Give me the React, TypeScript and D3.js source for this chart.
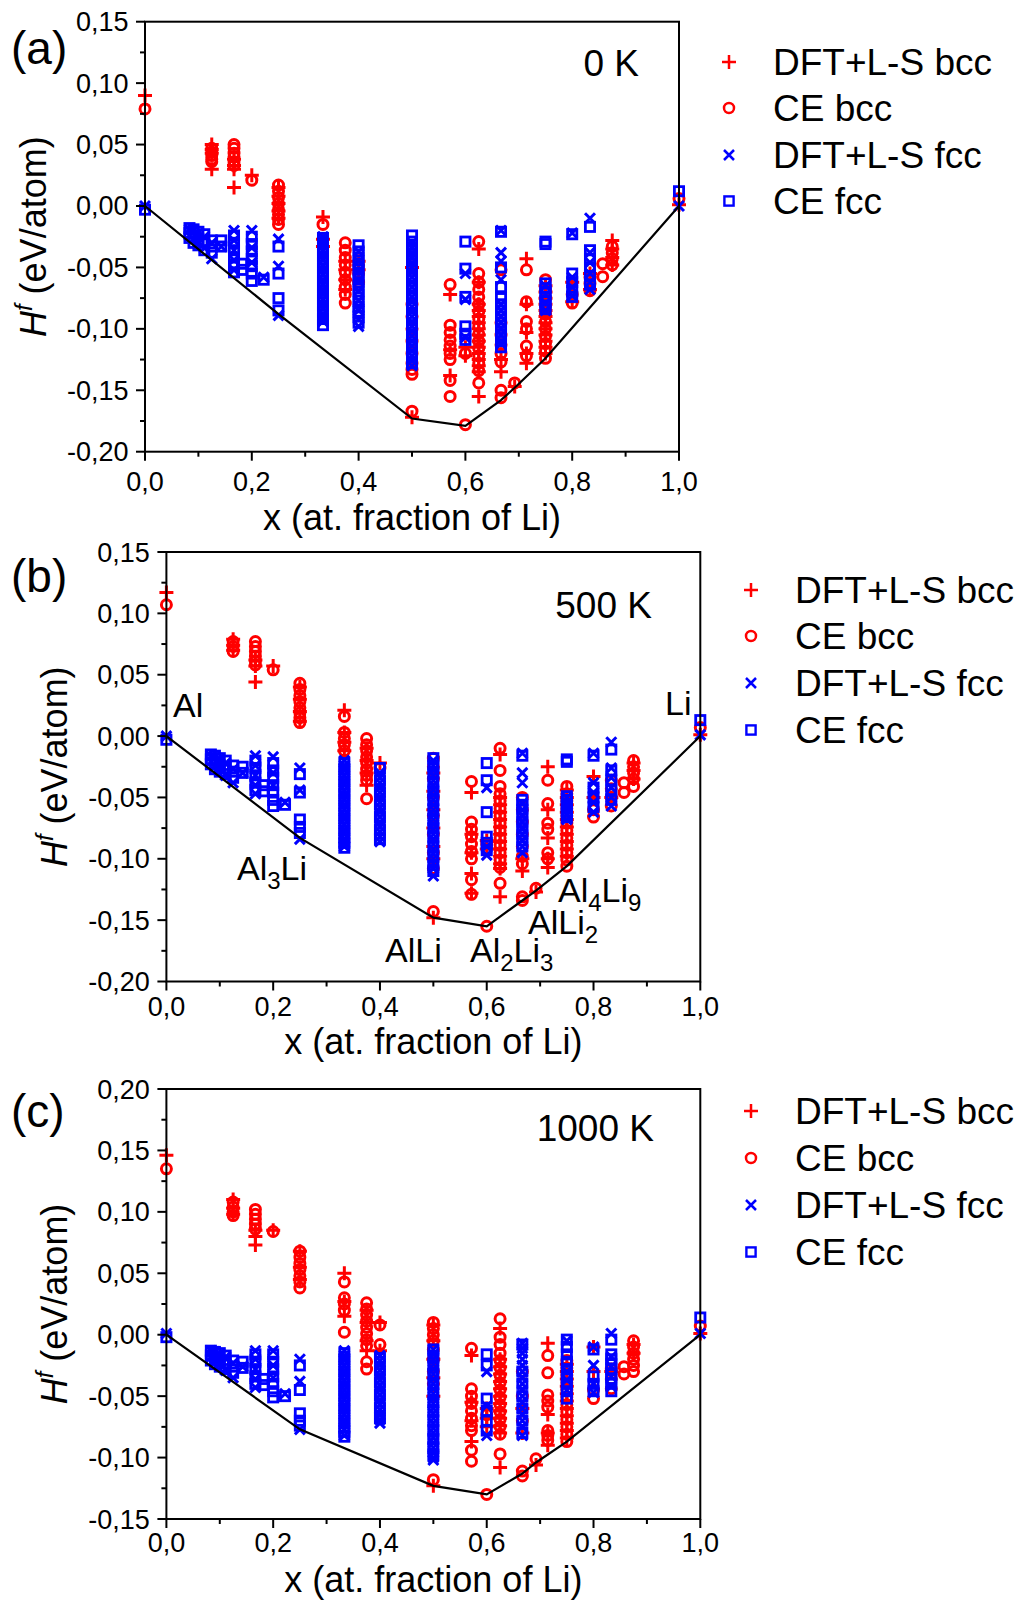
import React from 'react';
import * as d3 from 'd3';

type Col = [number, number[]];
type Pt = [number, number];

// ---------- tick values ----------
const X_TICKS = [0, 0.2, 0.4, 0.6, 0.8, 1.0];
const X_MINOR = [0.1, 0.3, 0.5, 0.7, 0.9];
const Y_TICKS_AB = [0.15, 0.1, 0.05, 0.0, -0.05, -0.1, -0.15, -0.2];
const Y_TICKS_C = [0.2, 0.15, 0.1, 0.05, 0.0, -0.05, -0.1, -0.15];

const LEGEND_LABELS = ['DFT+L-S bcc', 'CE bcc', 'DFT+L-S fcc', 'CE fcc'];
const X_TITLE = 'x (at. fraction of Li)';

// ---------- panel (a) 0 K ----------
const A_DFT_BCC: Col[] = [
  [0, [0.09]], [1, [0.001]],
  [0.125, [0.05, 0.046, 0.043, 0.03]],
  [0.1667, [0.038, 0.033, 0.03, 0.015]],
  [0.2, [0.025]],
  [0.25, [0.015, 0.008, 0.002, -0.004, -0.01]],
  [0.3333, [-0.009, -0.027, -0.033]],
  [0.375, [-0.045, -0.052, -0.06, -0.068]],
  [0.4, [-0.045, -0.052]],
  [0.5, [-0.05, -0.172]],
  [0.5714, [-0.072, -0.117, -0.138]],
  [0.6, [-0.115, -0.122]],
  [0.625, [-0.035, -0.062, -0.08, -0.085, -0.09, -0.095, -0.1, -0.105, -0.11, -0.115, -0.12, -0.125, -0.13, -0.135, -0.155]],
  [0.6667, [-0.125, -0.135]],
  [0.6923, [-0.147]],
  [0.7143, [-0.043, -0.08, -0.103, -0.12, -0.128]],
  [0.75, [-0.065, -0.07, -0.075, -0.08, -0.085, -0.09, -0.095, -0.1, -0.105, -0.11, -0.115, -0.12]],
  [0.8, [-0.062, -0.078]],
  [0.8333, [-0.055, -0.068]],
  [0.875, [-0.028, -0.035, -0.042, -0.048]],
];
const A_CE_BCC: Col[] = [
  [0, [0.079]], [1, [0.006]],
  [0.125, [0.047, 0.044, 0.041, 0.038, 0.036]],
  [0.1667, [0.05, 0.047, 0.043, 0.04, 0.036, 0.033]],
  [0.2, [0.021]],
  [0.25, [0.017, 0.012, 0.007, 0.002, -0.003, -0.007, -0.011, -0.015]],
  [0.3333, [-0.015]],
  [0.375, [-0.03, -0.036, -0.042, -0.048, -0.054, -0.06, -0.066, -0.072, -0.079]],
  [0.4, [-0.048, -0.055, -0.062]],
  [0.5, [-0.08, -0.09, -0.1, -0.11, -0.12, -0.128, -0.133, -0.137, -0.167]],
  [0.5714, [-0.064, -0.097, -0.103, -0.109, -0.114, -0.12, -0.125, -0.142, -0.155]],
  [0.6, [-0.12, -0.178]],
  [0.625, [-0.029, -0.055, -0.062, -0.068, -0.074, -0.08, -0.086, -0.092, -0.098, -0.104, -0.11, -0.116, -0.122, -0.128, -0.134, -0.144]],
  [0.6667, [-0.052, -0.095, -0.105, -0.113, -0.12, -0.127, -0.15, -0.156]],
  [0.6923, [-0.144]],
  [0.7143, [-0.052, -0.078, -0.094, -0.1, -0.114, -0.122]],
  [0.75, [-0.06, -0.068, -0.075, -0.082, -0.088, -0.094, -0.1, -0.106, -0.112, -0.118, -0.124]],
  [0.8, [-0.079, -0.072]],
  [0.8333, [-0.058, -0.063, -0.069]],
  [0.8571, [-0.047, -0.0575]],
  [0.875, [-0.033, -0.038, -0.043, -0.048]],
];
const A_DFT_FCC: Col[] = [
  [0, [0]], [1, [0]],
  [0.0833, [-0.019, -0.024]],
  [0.0909, [-0.02, -0.027]],
  [0.1, [-0.022, -0.03]],
  [0.1111, [-0.025, -0.034]],
  [0.125, [-0.03, -0.043]],
  [0.1429, [-0.033]],
  [0.1667, [-0.02, -0.028, -0.036, -0.044, -0.052]],
  [0.2, [-0.02, -0.034, -0.046]],
  [0.2222, [-0.058]],
  [0.25, [-0.027, -0.049, -0.089]],
  [0.3333, [-0.025, -0.028, -0.032, -0.036, -0.04, -0.044, -0.048, -0.052, -0.056, -0.06, -0.064, -0.068, -0.072, -0.076, -0.08, -0.084, -0.088, -0.091, -0.094]],
  [0.4, [-0.037, -0.045, -0.053, -0.061, -0.069, -0.077, -0.085, -0.092, -0.098]],
  [0.5, [-0.03, -0.034, -0.038, -0.042, -0.046, -0.05, -0.054, -0.058, -0.062, -0.066, -0.07, -0.074, -0.078, -0.082, -0.086, -0.09, -0.094, -0.098, -0.102, -0.106, -0.11, -0.114, -0.118, -0.122, -0.126, -0.13]],
  [0.6, [-0.055, -0.076, -0.107]],
  [0.6667, [-0.02, -0.038, -0.045, -0.06, -0.08, -0.085, -0.09, -0.095, -0.1, -0.105, -0.112]],
  [0.75, [-0.065, -0.072, -0.079, -0.085]],
  [0.8, [-0.022, -0.058, -0.066, -0.073]],
  [0.8333, [-0.01, -0.038, -0.046, -0.055, -0.062, -0.068]],
];
const A_CE_FCC: Col[] = [
  [0, [-0.003]], [1, [0.012]],
  [0.0833, [-0.018, -0.022, -0.026]],
  [0.0909, [-0.019, -0.025, -0.03]],
  [0.1, [-0.021, -0.027, -0.032]],
  [0.1111, [-0.023, -0.029, -0.036]],
  [0.125, [-0.028, -0.033, -0.038]],
  [0.1429, [-0.028, -0.033]],
  [0.1667, [-0.024, -0.03, -0.036, -0.042, -0.048, -0.054]],
  [0.1818, [-0.047, -0.052]],
  [0.2, [-0.025, -0.031, -0.037, -0.043, -0.049, -0.055, -0.061]],
  [0.2222, [-0.06]],
  [0.25, [-0.033, -0.055, -0.075, -0.085]],
  [0.3333, [-0.026, -0.031, -0.036, -0.041, -0.046, -0.051, -0.056, -0.061, -0.066, -0.071, -0.076, -0.081, -0.086, -0.092, -0.097]],
  [0.4, [-0.032, -0.037, -0.042, -0.047, -0.052, -0.057, -0.062, -0.067, -0.072, -0.077, -0.082, -0.086, -0.09, -0.095]],
  [0.5, [-0.024, -0.029, -0.034, -0.039, -0.044, -0.05, -0.058, -0.066, -0.074, -0.082, -0.09, -0.098, -0.106, -0.114, -0.122, -0.128]],
  [0.6, [-0.029, -0.051, -0.074, -0.098, -0.104, -0.109]],
  [0.6667, [-0.021, -0.05, -0.066, -0.075, -0.08, -0.085, -0.09, -0.095, -0.1, -0.105, -0.11, -0.115]],
  [0.75, [-0.029, -0.031, -0.063, -0.067, -0.07, -0.074, -0.077, -0.081, -0.084]],
  [0.8, [-0.023, -0.055, -0.062, -0.069, -0.074]],
  [0.8333, [-0.017, -0.036, -0.043, -0.05, -0.057, -0.064]],
];
const A_HULL: Pt[] = [[0, 0], [0.25, -0.088], [0.5, -0.173], [0.6, -0.179], [0.6667, -0.158], [0.6923, -0.148], [0.75, -0.124], [1, 0]];

// ---------- panel (b) 500 K ----------
const B_DFT_BCC: Col[] = [
  [0, [0.117]], [1, [0.001]],
  [0.125, [0.079, 0.074, 0.07]],
  [0.1667, [0.062, 0.057, 0.044]],
  [0.2, [0.057]],
  [0.25, [0.04, 0.03, 0.02, 0.012]],
  [0.3333, [0.021, 0.003, -0.005, -0.012]],
  [0.375, [-0.01, -0.02, -0.03, -0.04]],
  [0.4, [-0.022]],
  [0.5, [-0.03, -0.045, -0.06, -0.075, -0.09, -0.1, -0.148]],
  [0.5714, [-0.046, -0.08, -0.095, -0.112, -0.128]],
  [0.6, [-0.085, -0.092]],
  [0.625, [-0.015, -0.05, -0.056, -0.062, -0.068, -0.074, -0.08, -0.086, -0.092, -0.098, -0.104, -0.108, -0.131]],
  [0.6667, [-0.1, -0.11]],
  [0.6923, [-0.127]],
  [0.7143, [-0.025, -0.06, -0.083, -0.1, -0.107]],
  [0.75, [-0.044, -0.05, -0.056, -0.062, -0.068, -0.074, -0.08, -0.086, -0.092, -0.098]],
  [0.8, [-0.033, -0.05]],
  [0.8333, [-0.05]],
  [0.875, [-0.022, -0.028, -0.035]],
];
const B_CE_BCC: Col[] = [
  [0, [0.107]], [1, [0.007]],
  [0.125, [0.077, 0.073, 0.069]],
  [0.1667, [0.077, 0.073, 0.069, 0.065, 0.061, 0.058]],
  [0.2, [0.054]],
  [0.25, [0.043, 0.038, 0.033, 0.028, 0.023, 0.019, 0.015, 0.011]],
  [0.3333, [0.016, 0.003, -0.002, -0.007, -0.012]],
  [0.375, [-0.002, -0.007, -0.012, -0.017, -0.022, -0.027, -0.032, -0.036, -0.051]],
  [0.4, [-0.026]],
  [0.5, [-0.018, -0.025, -0.035, -0.05, -0.065, -0.08, -0.095, -0.108, -0.143]],
  [0.5714, [-0.037, -0.07, -0.076, -0.082, -0.088, -0.094, -0.1, -0.117, -0.129]],
  [0.6, [-0.088, -0.155]],
  [0.625, [-0.01, -0.028, -0.041, -0.047, -0.053, -0.059, -0.065, -0.071, -0.077, -0.083, -0.089, -0.095, -0.101, -0.107, -0.12]],
  [0.6667, [-0.05, -0.06, -0.07, -0.08, -0.09, -0.098, -0.104, -0.131, -0.134]],
  [0.6923, [-0.124]],
  [0.7143, [-0.036, -0.055, -0.071, -0.076, -0.095, -0.1]],
  [0.75, [-0.041, -0.047, -0.053, -0.059, -0.065, -0.071, -0.077, -0.083, -0.089, -0.095, -0.101, -0.106]],
  [0.8, [-0.066, -0.06]],
  [0.8333, [-0.036, -0.043, -0.05, -0.057]],
  [0.8571, [-0.038, -0.046]],
  [0.875, [-0.02, -0.025, -0.03, -0.035, -0.041]],
];
const B_DFT_FCC: Col[] = [
  [0, [0]], [1, [0.001]],
  [0.0833, [-0.016, -0.021]],
  [0.0909, [-0.017, -0.024]],
  [0.1, [-0.019, -0.027]],
  [0.1111, [-0.022, -0.032]],
  [0.125, [-0.027, -0.038]],
  [0.1429, [-0.03]],
  [0.1667, [-0.016, -0.024, -0.032, -0.04, -0.047]],
  [0.2, [-0.017, -0.03, -0.04]],
  [0.2222, [-0.054]],
  [0.25, [-0.026, -0.044, -0.084]],
  [0.3333, [-0.02, -0.024, -0.028, -0.032, -0.036, -0.04, -0.044, -0.048, -0.052, -0.056, -0.06, -0.064, -0.068, -0.072, -0.076, -0.08, -0.084, -0.087, -0.09]],
  [0.4, [-0.03, -0.034, -0.038, -0.042, -0.046, -0.05, -0.054, -0.058, -0.062, -0.066, -0.07, -0.074, -0.078, -0.082, -0.086]],
  [0.5, [-0.02, -0.024, -0.028, -0.032, -0.036, -0.04, -0.044, -0.048, -0.052, -0.056, -0.06, -0.064, -0.068, -0.072, -0.076, -0.08, -0.084, -0.088, -0.092, -0.096, -0.1, -0.104, -0.108, -0.114]],
  [0.6, [-0.042, -0.09, -0.097]],
  [0.6667, [-0.014, -0.03, -0.038, -0.055, -0.06, -0.065, -0.07, -0.075, -0.08, -0.085, -0.09, -0.095]],
  [0.75, [-0.05, -0.057, -0.064, -0.068]],
  [0.8, [-0.014, -0.038, -0.046, -0.054, -0.062]],
  [0.8333, [-0.005, -0.026, -0.034, -0.042, -0.05, -0.057]],
];
const B_CE_FCC: Col[] = [
  [0, [-0.003]], [1, [0.013]],
  [0.0833, [-0.015, -0.019, -0.023]],
  [0.0909, [-0.016, -0.022, -0.027]],
  [0.1, [-0.018, -0.024, -0.029]],
  [0.1111, [-0.02, -0.026, -0.031]],
  [0.125, [-0.024, -0.029, -0.034]],
  [0.1429, [-0.025, -0.03]],
  [0.1667, [-0.02, -0.026, -0.032, -0.038, -0.044]],
  [0.1818, [-0.04, -0.045]],
  [0.2, [-0.022, -0.028, -0.034, -0.04, -0.046, -0.052, -0.057]],
  [0.2222, [-0.056]],
  [0.25, [-0.031, -0.046, -0.068, -0.074, -0.079]],
  [0.3333, [-0.022, -0.027, -0.032, -0.037, -0.042, -0.047, -0.052, -0.057, -0.062, -0.067, -0.072, -0.077, -0.082, -0.087, -0.091]],
  [0.4, [-0.026, -0.036, -0.046, -0.056, -0.066, -0.076, -0.084]],
  [0.5, [-0.018, -0.024, -0.03, -0.038, -0.045, -0.052, -0.06, -0.068, -0.075, -0.082, -0.09, -0.098, -0.105, -0.11]],
  [0.6, [-0.022, -0.036, -0.062, -0.082, -0.087, -0.093]],
  [0.6667, [-0.016, -0.052, -0.056, -0.06, -0.065, -0.07, -0.075, -0.08, -0.085, -0.09]],
  [0.75, [-0.019, -0.021, -0.049, -0.052, -0.055, -0.058, -0.061, -0.064, -0.066]],
  [0.8, [-0.016, -0.042, -0.05, -0.058]],
  [0.8333, [-0.011, -0.028, -0.036, -0.044, -0.052]],
];
const B_HULL: Pt[] = [[0, 0], [0.25, -0.083], [0.5, -0.148], [0.6, -0.155], [0.6667, -0.134], [0.6923, -0.126], [0.75, -0.106], [1, 0]];

// ---------- panel (c) 1000 K ----------
const C_DFT_BCC: Col[] = [
  [0, [0.146]], [1, [0.001]],
  [0.125, [0.11, 0.103, 0.098]],
  [0.1667, [0.085, 0.08, 0.073]],
  [0.2, [0.085]],
  [0.25, [0.068, 0.055, 0.045]],
  [0.3333, [0.05, 0.027, 0.015]],
  [0.375, [0.02, 0.01, -0.005, -0.013]],
  [0.4, [0.01, -0.013]],
  [0.5, [0.008, -0.005, -0.02, -0.035, -0.05, -0.123]],
  [0.5714, [-0.017, -0.055, -0.07, -0.087]],
  [0.6, [-0.06, -0.068, -0.075]],
  [0.625, [0.005, -0.02, -0.026, -0.032, -0.038, -0.044, -0.05, -0.056, -0.062, -0.068, -0.074, -0.08, -0.108]],
  [0.6667, [-0.06, -0.08]],
  [0.6923, [-0.106]],
  [0.7143, [-0.007, -0.065, -0.08, -0.09]],
  [0.75, [-0.024, -0.03, -0.036, -0.042, -0.048, -0.054, -0.06, -0.066, -0.072, -0.078, -0.084]],
  [0.8, [-0.01, -0.03]],
  [0.8333, [-0.03]],
  [0.875, [-0.008, -0.015]],
];
const C_CE_BCC: Col[] = [
  [0, [0.135]], [1, [0.007]],
  [0.125, [0.108, 0.104, 0.1, 0.097]],
  [0.1667, [0.102, 0.098, 0.094, 0.09, 0.086]],
  [0.2, [0.084]],
  [0.25, [0.068, 0.063, 0.058, 0.053, 0.048, 0.043, 0.038]],
  [0.3333, [0.043, 0.03, 0.025, 0.02, 0.002]],
  [0.375, [0.026, 0.021, 0.016, 0.011, 0.006, 0.001, -0.004, -0.009, -0.022, -0.028]],
  [0.4, [0.008, -0.008]],
  [0.5, [0.01, 0.005, 0.0, -0.005, -0.012, -0.02, -0.03, -0.04, -0.118]],
  [0.5714, [-0.011, -0.044, -0.05, -0.056, -0.062, -0.068, -0.074, -0.078, -0.094, -0.103]],
  [0.6, [-0.065, -0.13]],
  [0.625, [0.013, -0.002, -0.008, -0.015, -0.021, -0.027, -0.033, -0.039, -0.045, -0.051, -0.057, -0.063, -0.069, -0.075, -0.081, -0.097]],
  [0.6667, [-0.03, -0.05, -0.07, -0.111, -0.115]],
  [0.6923, [-0.101]],
  [0.7143, [-0.017, -0.031, -0.049, -0.054, -0.059, -0.078, -0.082, -0.086]],
  [0.75, [-0.021, -0.027, -0.033, -0.039, -0.045, -0.051, -0.057, -0.063, -0.069, -0.075, -0.081, -0.087]],
  [0.8, [-0.052, -0.045]],
  [0.8333, [-0.028, -0.036, -0.044]],
  [0.8571, [-0.026, -0.032]],
  [0.875, [-0.005, -0.01, -0.015, -0.02, -0.025, -0.03]],
];
const C_DFT_FCC: Col[] = [
  [0, [0.001]], [1, [0.001]],
  [0.0833, [-0.013, -0.018]],
  [0.0909, [-0.014, -0.021]],
  [0.1, [-0.016, -0.024]],
  [0.1111, [-0.018, -0.029]],
  [0.125, [-0.023, -0.035]],
  [0.1429, [-0.026]],
  [0.1667, [-0.013, -0.02, -0.028, -0.036, -0.043]],
  [0.2, [-0.013, -0.025, -0.035]],
  [0.2222, [-0.048]],
  [0.25, [-0.02, -0.038, -0.077]],
  [0.3333, [-0.013, -0.017, -0.021, -0.025, -0.029, -0.033, -0.037, -0.041, -0.045, -0.049, -0.053, -0.057, -0.061, -0.065, -0.069, -0.073, -0.077, -0.082]],
  [0.4, [-0.017, -0.021, -0.025, -0.029, -0.033, -0.037, -0.041, -0.045, -0.049, -0.053, -0.057, -0.061, -0.065, -0.069, -0.072]],
  [0.5, [-0.012, -0.016, -0.02, -0.024, -0.028, -0.032, -0.036, -0.04, -0.044, -0.048, -0.052, -0.056, -0.06, -0.064, -0.068, -0.072, -0.076, -0.08, -0.084, -0.088, -0.092, -0.096, -0.1, -0.102]],
  [0.6, [-0.03, -0.058, -0.082]],
  [0.6667, [-0.007, -0.011, -0.015, -0.02, -0.025, -0.03, -0.035, -0.04, -0.045, -0.05, -0.055, -0.06, -0.065, -0.07, -0.075, -0.082]],
  [0.75, [-0.005, -0.03, -0.037, -0.045]],
  [0.8, [-0.01, -0.025, -0.04, -0.047]],
  [0.8333, [0.001, -0.018, -0.026, -0.034, -0.042]],
];
const C_CE_FCC: Col[] = [
  [0, [-0.002]], [1, [0.014]],
  [0.0833, [-0.013, -0.017, -0.021]],
  [0.0909, [-0.014, -0.019, -0.024]],
  [0.1, [-0.015, -0.021, -0.026]],
  [0.1111, [-0.017, -0.023, -0.028]],
  [0.125, [-0.021, -0.026, -0.031]],
  [0.1429, [-0.022, -0.027]],
  [0.1667, [-0.016, -0.022, -0.028, -0.034, -0.04]],
  [0.1818, [-0.036, -0.041]],
  [0.2, [-0.016, -0.022, -0.028, -0.034, -0.04, -0.046, -0.051]],
  [0.2222, [-0.05]],
  [0.25, [-0.025, -0.045, -0.064, -0.07, -0.074]],
  [0.3333, [-0.015, -0.02, -0.025, -0.03, -0.035, -0.04, -0.045, -0.05, -0.055, -0.06, -0.065, -0.07, -0.075, -0.079, -0.083]],
  [0.4, [-0.019, -0.029, -0.039, -0.049, -0.059, -0.068]],
  [0.5, [-0.012, -0.018, -0.025, -0.032, -0.04, -0.048, -0.055, -0.062, -0.07, -0.078, -0.085, -0.092, -0.098]],
  [0.6, [-0.016, -0.025, -0.052, -0.062, -0.07, -0.078]],
  [0.6667, [-0.008, -0.03, -0.04, -0.05, -0.06, -0.07, -0.08]],
  [0.75, [-0.004, -0.01, -0.016, -0.022, -0.028, -0.034, -0.04, -0.046, -0.052]],
  [0.8, [-0.012, -0.034, -0.04, -0.046]],
  [0.8333, [-0.004, -0.016, -0.02, -0.024, -0.028, -0.032, -0.036, -0.04, -0.046]],
];
const C_HULL: Pt[] = [[0, 0], [0.25, -0.077], [0.5, -0.123], [0.6, -0.13], [0.6667, -0.113], [0.6923, -0.104], [0.75, -0.087], [1, 0]];

// ---------- styling ----------
const RED = '#ff0000';
const BLUE = '#0000ff';
const FONT = '"Liberation Sans", Arial, Helvetica, sans-serif';

type Shape = 'plus' | 'circle' | 'cross' | 'square';

function Marker({ shape, x, y, color, legend = false }: { shape: Shape; x: number; y: number; color: string; legend?: boolean }) {
  const sw = legend ? 2.5 : 3;
  if (shape === 'plus') {
    const h = 7;
    return <path d={`M${x - h},${y}H${x + h}M${x},${y - h}V${y + h}`} stroke={color} strokeWidth={sw} fill="none" />;
  }
  if (shape === 'cross') {
    const h = 5;
    return <path d={`M${x - h},${y - h}L${x + h},${y + h}M${x - h},${y + h}L${x + h},${y - h}`} stroke={color} strokeWidth={sw} fill="none" />;
  }
  if (shape === 'circle') {
    return <circle cx={x} cy={y} r={5} stroke={color} strokeWidth={sw} fill="none" />;
  }
  const h = 4.6;
  return <rect x={x - h} y={y - h} width={2 * h} height={2 * h} stroke={color} strokeWidth={legend ? 2.4 : 2.8} fill="none" />;
}

const fmtY = (v: number) => (v < -1e-9 ? '-' : '') + Math.abs(v).toFixed(2).replace('.', ',');
const fmtX = (v: number) => v.toFixed(1).replace('.', ',');

interface PanelProps {
  x0: number; x1: number; yTop: number; yBot: number;
  yMin: number; yMax: number; yTicks: number[];
  series: { data: Col[]; shape: Shape; color: string }[];
  hull: Pt[];
  letter: string; letterX: number; letterY: number;
  temp: string; tempX: number; tempY: number;
  legX: number; legTextX: number; legRows: number[];
  xTickBase: number; xTitleBase: number; yTitleX: number;
  children?: React.ReactNode;
}

function Panel(p: PanelProps) {
  const xs = d3.scaleLinear().domain([0, 1]).range([p.x0, p.x1]);
  const ys = d3.scaleLinear().domain([p.yMin, p.yMax]).range([p.yBot, p.yTop]);
  const line = d3.line<Pt>().x(d => xs(d[0])).y(d => ys(d[1]));
  const minorY: number[] = [];
  for (let i = 0; i < p.yTicks.length - 1; i++) minorY.push((p.yTicks[i] + p.yTicks[i + 1]) / 2);
  return (
    <g>
      {p.series.map((s, si) => (
        <g key={si}>
          {s.data.flatMap(([xv, yv], ci) =>
            yv.map((v, k) => <Marker key={`${ci}-${k}`} shape={s.shape} color={s.color} x={xs(xv)} y={ys(v)} />)
          )}
        </g>
      ))}
      <path d={line(p.hull) || ''} stroke="#000" strokeWidth={2.2} fill="none" />
      <rect x={p.x0} y={p.yTop} width={p.x1 - p.x0} height={p.yBot - p.yTop} fill="none" stroke="#000" strokeWidth={2} />
      {p.yTicks.map(v => (
        <g key={`yt${v}`}>
          <line x1={p.x0 - 9} x2={p.x0} y1={ys(v)} y2={ys(v)} stroke="#000" strokeWidth={2} />
          <text x={p.x0 - 16.5} y={ys(v) + 9.5} textAnchor="end" fontSize={27} fontFamily={FONT}>{fmtY(v)}</text>
        </g>
      ))}
      {minorY.map(v => (
        <line key={`ym${v}`} x1={p.x0 - 5} x2={p.x0} y1={ys(v)} y2={ys(v)} stroke="#000" strokeWidth={2} />
      ))}
      {X_TICKS.map(v => (
        <g key={`xt${v}`}>
          <line x1={xs(v)} x2={xs(v)} y1={p.yBot} y2={p.yBot + 9} stroke="#000" strokeWidth={2} />
          <text x={xs(v)} y={p.xTickBase} textAnchor="middle" fontSize={27} fontFamily={FONT}>{fmtX(v)}</text>
        </g>
      ))}
      {X_MINOR.map(v => (
        <line key={`xm${v}`} x1={xs(v)} x2={xs(v)} y1={p.yBot} y2={p.yBot + 5} stroke="#000" strokeWidth={2} />
      ))}
      <text x={(p.x0 + p.x1) / 2} y={p.xTitleBase} textAnchor="middle" fontSize={36} fontFamily={FONT}>{X_TITLE}</text>
      <text transform={`translate(${p.yTitleX},${(p.yTop + p.yBot) / 2}) rotate(-90)`} textAnchor="middle" fontSize={36} fontFamily={FONT}>
        <tspan fontStyle="italic">H</tspan>
        <tspan fontStyle="italic" fontSize={24} dy={-14}>f</tspan>
        <tspan dy={14}> (eV/atom)</tspan>
      </text>
      <text x={p.letterX} y={p.letterY} fontSize={46} fontFamily={FONT}>{p.letter}</text>
      <text x={p.tempX} y={p.tempY} textAnchor="end" fontSize={37} fontFamily={FONT}>{p.temp}</text>
      {p.series.map((l, i) => (
        <g key={`lg${i}`}>
          <Marker shape={l.shape} color={l.color} x={p.legX} y={p.legRows[i]} legend />
          <text x={p.legTextX} y={p.legRows[i] + 13} fontSize={37} fontFamily={FONT}>{LEGEND_LABELS[i]}</text>
        </g>
      ))}
      {p.children}
    </g>
  );
}

function Sub({ x, y, parts }: { x: number; y: number; parts: [string, string?][] }) {
  const nodes: React.ReactNode[] = [];
  let lowered = false;
  parts.forEach(([main, sub], i) => {
    nodes.push(<tspan key={`m${i}`} dy={lowered ? -9 : 0}>{main}</tspan>);
    lowered = false;
    if (sub) {
      nodes.push(<tspan key={`s${i}`} fontSize={24} dy={9}>{sub}</tspan>);
      lowered = true;
    }
  });
  return <text x={x} y={y} fontSize={34} fontFamily={FONT}>{nodes}</text>;
}

export default function App() {
  const mk = (dft: Col[], ceB: Col[], dftF: Col[], ceF: Col[]) => [
    { data: dft, shape: 'plus' as Shape, color: RED },
    { data: ceB, shape: 'circle' as Shape, color: RED },
    { data: dftF, shape: 'cross' as Shape, color: BLUE },
    { data: ceF, shape: 'square' as Shape, color: BLUE },
  ];
  return (
    <svg width={1026} height={1600} style={{ position: 'absolute', left: 0, top: 0, background: '#fff' }}>
      <rect x={0} y={0} width={1026} height={1600} fill="#fff" />
      <Panel x0={145} x1={679} yTop={21.7} yBot={451.7} yMin={-0.2} yMax={0.15} yTicks={Y_TICKS_AB}
        series={mk(A_DFT_BCC, A_CE_BCC, A_DFT_FCC, A_CE_FCC)} hull={A_HULL}
        letter="(a)" letterX={11} letterY={64} temp="0 K" tempX={639} tempY={76}
        legX={729} legTextX={773} legRows={[62, 108, 155, 201]}
        xTickBase={491} xTitleBase={530} yTitleX={46} />
      <Panel x0={166.4} x1={700.3} yTop={552} yBot={981.5} yMin={-0.2} yMax={0.15} yTicks={Y_TICKS_AB}
        series={mk(B_DFT_BCC, B_CE_BCC, B_DFT_FCC, B_CE_FCC)} hull={B_HULL}
        letter="(b)" letterX={11} letterY={592} temp="500 K" tempX={652} tempY={618}
        legX={751} legTextX={795} legRows={[590, 636, 683, 730]}
        xTickBase={1016} xTitleBase={1054} yTitleX={67}>
        <Sub x={173} y={717} parts={[['Al']]} />
        <Sub x={665} y={715} parts={[['Li']]} />
        <Sub x={237} y={880} parts={[['Al', '3'], ['Li']]} />
        <Sub x={385} y={962} parts={[['AlLi']]} />
        <Sub x={470} y={962} parts={[['Al', '2'], ['Li', '3']]} />
        <Sub x={528} y={934} parts={[['AlLi', '2']]} />
        <Sub x={558} y={902} parts={[['Al', '4'], ['Li', '9']]} />
      </Panel>
      <Panel x0={166.4} x1={700.3} yTop={1089} yBot={1519} yMin={-0.15} yMax={0.2} yTicks={Y_TICKS_C}
        series={mk(C_DFT_BCC, C_CE_BCC, C_DFT_FCC, C_CE_FCC)} hull={C_HULL}
        letter="(c)" letterX={11} letterY={1127} temp="1000 K" tempX={654} tempY={1141}
        legX={751} legTextX={795} legRows={[1111, 1158, 1205, 1252]}
        xTickBase={1552} xTitleBase={1592} yTitleX={67} />
    </svg>
  );
}
